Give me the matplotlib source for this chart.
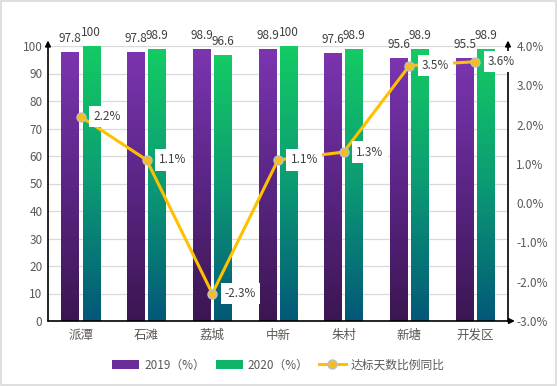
import numpy as np
import matplotlib
matplotlib.use("Agg")
import matplotlib.pyplot as plt
from matplotlib.colors import LinearSegmentedColormap
from matplotlib.patches import Rectangle, Patch
from matplotlib.lines import Line2D
from matplotlib.ticker import FuncFormatter

plt.rcParams['font.family'] = ['Noto Sans CJK SC', 'DejaVu Sans']

categories = ["派潭", "石滩", "荔城", "中新", "朱村", "新塘", "开发区"]
rate_2019 = [97.8, 97.8, 98.9, 98.9, 97.6, 95.6, 95.5]
rate_2020 = [100, 98.9, 96.6, 100, 98.9, 98.9, 98.9]
yoy_change = [2.2, 1.1, -2.3, 1.1, 1.3, 3.5, 3.6]

purple_cmap = LinearSegmentedColormap.from_list("p", ["#3c1652", "#5a2584", "#7b35b0"])
green_cmap = LinearSegmentedColormap.from_list("g", ["#035878", "#0c9a74", "#14cb64"])

fig = plt.figure(figsize=(5.57, 3.86), dpi=100)
ax = fig.add_axes([48 / 557, 1 - 321 / 386, 460 / 557, 275 / 386])
fig.patches.append(Rectangle((0.002, 0.003), 0.996, 0.994, transform=fig.transFigure,
                             fill=False, edgecolor="#d9d9d9", linewidth=1.2))

x = np.arange(len(categories))
w = 0.27
gap = 0.05
grad = np.linspace(0, 1, 256).reshape(-1, 1)


def gradient_bars(xs, vals, cmap):
    bars = ax.bar(xs, vals, w, color="none", zorder=2)
    for b in bars:
        x0, y0 = b.get_x(), b.get_y()
        im = ax.imshow(grad, cmap=cmap, origin="lower", aspect="auto",
                       extent=(x0, x0 + b.get_width(), y0, y0 + b.get_height()), zorder=2)
        im.set_clip_path(b)
    return bars


gradient_bars(x - w / 2 - gap / 2, rate_2019, purple_cmap)
gradient_bars(x + w / 2 + gap / 2, rate_2020, green_cmap)

for xi, v in zip(x - w / 2 - gap / 2, rate_2019):
    ax.text(xi, v + 2.5, f"{v:g}", ha="center", va="bottom", fontsize=8.5, color="#404040")
for xi, v in zip(x + w / 2 + gap / 2, rate_2020):
    ax.text(xi, v + 2.5, f"{v:g}", ha="center", va="bottom", fontsize=8.5, color="#404040")

ax.set_xlim(-0.5, len(categories) - 0.5)
ax.set_ylim(0, 100)
ax.set_yticks(range(0, 101, 10))
ax.set_xticks(x)
ax.set_xticklabels(categories, fontsize=9, color="#595959")
ax.tick_params(axis="y", labelsize=8.5, labelcolor="#595959", length=0, pad=4)
ax.tick_params(axis="x", length=0, pad=6)
ax.grid(axis="y", color="#d9d9d9", linewidth=0.9, zorder=0)
ax.set_axisbelow(True)
for s in ax.spines.values():
    s.set_visible(False)

ax2 = ax.twinx()
ax2.plot(x, yoy_change, color="#ffc000", linewidth=2.2, marker="o", markersize=6.5,
         markerfacecolor="#f5bd1f", markeredgecolor="#bfbfbf", markeredgewidth=1, zorder=5)
for xi, v in zip(x, yoy_change):
    ax2.annotate(f"{v:.1f}%", (xi, v), xytext=(9, 0), textcoords="offset points",
                 ha="left", va="center", fontsize=8.5, color="#404040",
                 bbox=dict(boxstyle="square,pad=0.35", fc="white", ec="none"), zorder=6)
ax2.set_ylim(-3, 4)
ax2.set_yticks(range(-3, 5))
ax2.yaxis.set_major_formatter(FuncFormatter(lambda v, p: f"{v:.1f}%"))
ax2.tick_params(axis="y", labelsize=8.5, labelcolor="#595959", length=0, pad=6)
for s in ax2.spines.values():
    s.set_visible(False)

# axis lines with arrow heads
arrow = dict(arrowstyle="-|>", color="black", lw=1.2, mutation_scale=8, shrinkA=0, shrinkB=0)
ax2.annotate("", xy=(0, 1.02), xytext=(0, 0), xycoords="axes fraction", arrowprops=arrow)
ax2.annotate("", xy=(1, 1.02), xytext=(1, 0), xycoords="axes fraction", arrowprops=arrow)
ax2.annotate("", xy=(1.015, 0), xytext=(0, 0), xycoords="axes fraction", arrowprops=arrow)

handles = [Patch(facecolor="#6a2c98", edgecolor="none"),
           Patch(facecolor="#10b468", edgecolor="none"),
           Line2D([], [], color="#ffc000", linewidth=2.2, marker="o", markersize=6.5,
                  markerfacecolor="#f5bd1f", markeredgecolor="#bfbfbf")]
fig.legend(handles, ["2019（%）", "2020（%）", "达标天数比例同比"], loc="center",
           bbox_to_anchor=(0.5, 1 - 365 / 386), ncol=3, frameon=False, fontsize=8.5,
           labelcolor="#595959", handlelength=2.3, handleheight=0.9, columnspacing=0.9,
           handletextpad=0.4)

fig.savefig("out.png", dpi=100)
